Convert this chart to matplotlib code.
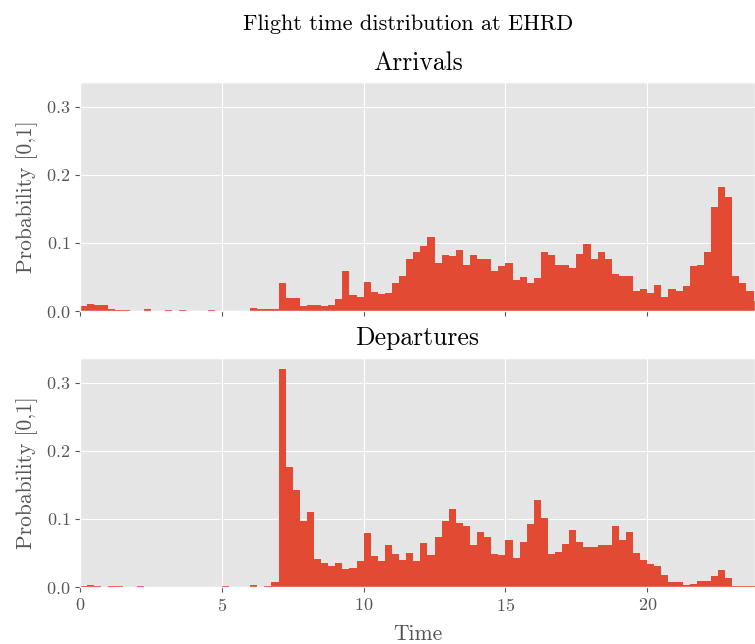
import matplotlib
matplotlib.use("Agg")
import matplotlib.pyplot as plt
import numpy as np

# probability per 15-minute bin (96 bins over 24 h)
arrivals = [
    0.008, 0.010, 0.009, 0.009, 0.003, 0.0015, 0.0015, 0.0, 0.0, 0.003, 0.0, 0.0,
    0.0015, 0.0, 0.0015, 0.0, 0.0, 0.0, 0.0015, 0.0, 0.0, 0.0, 0.0, 0.0,
    0.005, 0.003, 0.003, 0.003, 0.041, 0.019, 0.019, 0.008, 0.009, 0.009, 0.007, 0.009,
    0.017, 0.058, 0.023, 0.020, 0.042, 0.028, 0.025, 0.026, 0.041, 0.051, 0.077, 0.086,
    0.095, 0.108, 0.071, 0.082, 0.080, 0.089, 0.067, 0.082, 0.077, 0.076, 0.058, 0.066,
    0.070, 0.045, 0.050, 0.041, 0.048, 0.086, 0.082, 0.068, 0.068, 0.063, 0.084, 0.098,
    0.076, 0.087, 0.077, 0.054, 0.052, 0.051, 0.029, 0.032, 0.026, 0.038, 0.020, 0.032,
    0.029, 0.036, 0.066, 0.068, 0.087, 0.153, 0.182, 0.167, 0.051, 0.041, 0.029, 0.015,
]
departures = [
    0.0015, 0.003, 0.0015, 0.0, 0.0015, 0.0015, 0.0, 0.0, 0.0015, 0.0, 0.0, 0.0,
    0.0, 0.0, 0.0, 0.0, 0.0, 0.0, 0.0, 0.0, 0.0015, 0.0, 0.0, 0.0,
    0.003, 0.0, 0.0015, 0.008, 0.320, 0.176, 0.143, 0.097, 0.110, 0.041, 0.035, 0.031,
    0.035, 0.026, 0.028, 0.038, 0.079, 0.045, 0.038, 0.061, 0.048, 0.040, 0.050, 0.038,
    0.064, 0.047, 0.073, 0.097, 0.114, 0.094, 0.089, 0.061, 0.080, 0.073, 0.048, 0.047,
    0.069, 0.042, 0.066, 0.092, 0.127, 0.101, 0.048, 0.051, 0.063, 0.083, 0.066, 0.059,
    0.059, 0.061, 0.061, 0.089, 0.069, 0.080, 0.050, 0.040, 0.034, 0.031, 0.018, 0.007,
    0.007, 0.003, 0.004, 0.009, 0.009, 0.016, 0.025, 0.013, 0.0015, 0.0015, 0.0015, 0.0015,
]
bin_width = 0.25
bin_edges = np.arange(len(arrivals)) * bin_width

plt.style.use("ggplot")
plt.rcParams["font.family"] = "serif"
plt.rcParams["font.serif"] = ["cmr10"]
plt.rcParams["mathtext.fontset"] = "cm"
plt.rcParams["axes.formatter.use_mathtext"] = True
plt.rcParams["axes.unicode_minus"] = False

fig = plt.figure(figsize=(7.55, 6.44), dpi=100)
ax1 = fig.add_axes([80 / 755, 1 - 311 / 644, 675 / 755, 229 / 644])
ax2 = fig.add_axes([80 / 755, 1 - 587 / 644, 675 / 755, 229 / 644], sharex=ax1, sharey=ax1)

for ax, vals, title in [(ax1, arrivals, "Arrivals"), (ax2, departures, "Departures")]:
    ax.bar(bin_edges, vals, width=bin_width, align="edge", color="#E24A33", linewidth=0)
    ax.set_title(title, fontsize=18.5, pad=9)
    ax.set_ylabel("Probability [0,1]", fontsize=15.5, labelpad=6)
    ax.tick_params(labelsize=13)

ax1.tick_params(labelbottom=False)
ax1.set_xlim(0, 23.8)
ax1.set_ylim(0, 0.336)
ax1.set_yticks([0.0, 0.1, 0.2, 0.3])
ax2.set_xticks([0, 5, 10, 15, 20])
ax2.set_xlabel("Time", fontsize=15.5, labelpad=8)

fig.suptitle("Flight time distribution at EHRD", fontsize=16, x=408 / 755, y=0.978)
fig.savefig("out.png", dpi=100)
